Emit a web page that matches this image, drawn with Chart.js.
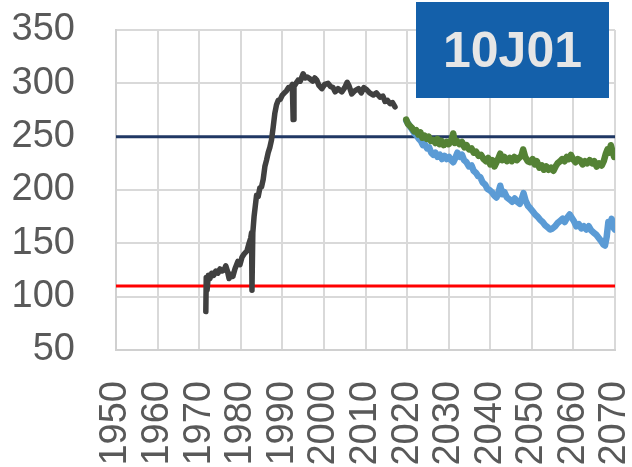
<!DOCTYPE html>
<html>
<head>
<meta charset="utf-8">
<script src="https://cdn.jsdelivr.net/npm/chart.js@4/dist/chart.umd.min.js"></script>
<style>
  html, body { margin: 0; padding: 0; background: #ffffff; }
  #wrap { position: relative; width: 632px; height: 467px; }
  #title {
    position: absolute; left: 416px; top: 2px; width: 193px; height: 96px;
    background: #1460aa; color: #e6e6e6;
    font: bold 50px "Liberation Sans", Arial, sans-serif;
    display: flex; align-items: center; justify-content: center;
  }
</style>
</head>
<body>
<div id="wrap">
  <canvas id="c" width="632" height="467"></canvas>
  <div id="title">10J01</div>
</div>
<script>
// ---- data ----
const xTicks = [1950, 1960, 1970, 1980, 1990, 2000, 2010, 2020, 2030, 2040, 2050, 2060, 2070];
const yTicks = [50, 100, 150, 200, 250, 300, 350];

const histYears = [1971.6,1971.7,1971.9,1972.2,1972.6,1973.0,1973.5,1974.0,1974.5,1975.0,1975.5,1976.0,1976.4,1976.8,1977.2,1977.6,1978.1,1978.6,1979.3,1979.8,1980.3,1980.8,1981.5,1982.0,1982.4,1982.6,1982.7,1982.9,1983.2,1983.5,1983.8,1984.2,1984.6,1985.0,1985.4,1985.8,1986.2,1986.6,1987.0,1987.4,1987.8,1988.2,1988.6,1989.0,1989.5,1990.0,1990.5,1991.0,1991.5,1992.0,1992.4,1992.6,1992.8,1993.3,1993.8,1994.3,1995.0,1995.5,1996.0,1996.7,1997.3,1997.8,1998.3,1998.8,1999.5,2000.2,2001.0,2001.6,2002.2,2002.7,2003.4,2004.3,2005.0,2005.6,2006.0,2006.7,2007.4,2008.3,2009.0,2009.6,2010.3,2011.0,2011.9,2012.6,2013.5,2014.2,2014.7,2015.3,2015.9,2016.5,2017.1];
const histValues = [86,118,106,120,117,122,120,124,122,126,124,125,129,124,117,121,119,126,133,130,137,140,143,150,155,160,106,160,175,185,195,194,202,203,210,222,228,235,240,247,259,272,280,284,285,289,291,293,296,296,299,266,297,300,303,302,309,305,306,304,302,305,303,298,295,299,300,297,296,292,295,292,296,301,298,290,293,295,291,296,294,291,289,291,287,288,283,284,281,282,278];

const greenYears = [2019.8,2020.2,2020.7,2021.2,2021.7,2022.2,2022.7,2023.2,2023.7,2024.2,2024.7,2025.2,2025.7,2026.3,2026.8,2027.3,2027.8,2028.3,2028.8,2029.5,2030.0,2030.6,2031.1,2031.5,2032.0,2032.6,2033.2,2033.8,2034.3,2034.9,2035.5,2036.0,2036.6,2037.2,2037.8,2038.4,2039.0,2039.5,2040.0,2040.5,2041.0,2041.5,2042.0,2042.4,2042.9,2043.4,2044.0,2044.7,2045.2,2045.8,2046.4,2046.9,2047.5,2047.9,2048.4,2049.0,2049.6,2050.2,2050.7,2051.2,2051.8,2052.4,2052.9,2053.5,2054.0,2054.6,2055.2,2055.7,2056.2,2056.8,2057.3,2057.9,2058.4,2058.9,2059.4,2059.9,2060.5,2061.0,2061.6,2062.2,2062.8,2063.3,2063.9,2064.5,2065.0,2065.6,2066.2,2066.8,2067.3,2067.8,2068.2,2068.6,2069.0,2069.4,2069.8];
const greenValues = [266,262,260,258,255,256,252,254,249,251,248,250,246,247,244,248,243,246,242,245,243,246,253,244,246,243,245,240,242,238,239,235,236,232,233,229,227,230,224,228,222,226,230,234,228,231,227,230,227,231,228,230,232,238,231,227,226,229,224,227,221,223,219,222,219,221,218,222,225,227,229,227,231,229,233,229,226,229,228,224,227,225,228,225,227,222,225,223,227,234,238,235,242,236,231];

const blueYears = [2019.8,2020.3,2020.8,2021.3,2021.8,2022.3,2022.8,2023.3,2023.8,2024.3,2024.8,2025.3,2025.8,2026.3,2026.8,2027.3,2027.9,2028.4,2029.0,2029.5,2030.1,2030.6,2031.1,2031.6,2032.1,2032.7,2033.2,2033.7,2034.3,2034.9,2035.5,2036.0,2036.6,2037.1,2037.6,2038.2,2038.8,2039.3,2039.8,2040.4,2040.9,2041.5,2042.0,2042.4,2042.9,2043.4,2044.0,2044.7,2045.3,2045.9,2046.5,2047.1,2047.6,2048.0,2048.5,2049.1,2049.6,2050.2,2050.8,2051.4,2052.0,2052.6,2053.2,2053.8,2054.4,2055.0,2055.6,2056.2,2056.8,2057.4,2057.9,2058.5,2059.1,2059.6,2060.1,2060.7,2061.3,2061.9,2062.5,2063.1,2063.7,2064.3,2064.9,2065.5,2066.1,2066.7,2067.2,2067.6,2068.0,2068.4,2068.8,2069.2,2069.6,2069.9];
const blueValues = [265,262,259,256,253,251,248,246,242,243,239,240,235,233,235,231,233,229,232,229,231,228,226,230,235,231,233,228,226,222,223,218,216,213,212,207,205,201,200,198,195,193,198,204,196,198,193,191,189,192,189,187,192,197,190,185,183,180,177,175,172,170,167,165,163,164,166,169,171,173,170,174,177,174,171,166,168,164,166,163,166,162,160,158,155,152,149,148,156,170,167,173,165,163];

const upperLimit = 250;
const lowerLimit = 110;

// ---- build ----
const toXY = (xs, ys) => xs.map((x, i) => ({ x: x, y: ys[i] }));
const flat = (v) => [{ x: xTicks[0], y: v }, { x: xTicks[xTicks.length - 1], y: v }];

const lineBase = { pointRadius: 0, tension: 0, borderJoinStyle: 'round', borderCapStyle: 'round', fill: false };

new Chart(document.getElementById('c'), {
  type: 'line',
  data: {
    datasets: [
      Object.assign({ label: 'hist', data: toXY(histYears, histValues), borderColor: '#404040', borderWidth: 5.5, order: 1 }, lineBase),
      Object.assign({ label: 'green', data: toXY(greenYears, greenValues), borderColor: '#548235', borderWidth: 6.5, order: 1 }, lineBase),
      Object.assign({ label: 'blue', data: toXY(blueYears, blueValues), borderColor: '#5b9bd5', borderWidth: 6.5, order: 2 }, lineBase),
      Object.assign({ label: 'upper', data: flat(upperLimit), borderColor: '#203864', borderWidth: 3, order: 3 }, lineBase),
      Object.assign({ label: 'lower', data: flat(lowerLimit), borderColor: '#ff0000', borderWidth: 3, order: 3 }, lineBase)
    ]
  },
  options: {
    responsive: false,
    animation: false,
    events: [],
    layout: { padding: { left: 0, right: 17, top: 30, bottom: 0 } },
    plugins: { legend: { display: false }, tooltip: { enabled: false }, title: { display: false } },
    scales: {
      x: {
        type: 'linear',
        min: xTicks[0], max: xTicks[xTicks.length - 1],
        afterBuildTicks: (s) => { s.ticks = xTicks.map(v => ({ value: v })); },
        afterFit: (s) => { s.height = 117; s.paddingLeft = 0; s.paddingRight = 0; },
        grid: { color: '#d9d9d9', lineWidth: 2, drawTicks: false },
        border: { color: '#d0d0d0', width: 2 },
        ticks: {
          autoSkip: false, maxRotation: 90, minRotation: 90, padding: 31,
          color: '#595959', font: { family: '"Liberation Sans", Arial, sans-serif', size: 38 },
          callback: (v) => String(v)
        }
      },
      y: {
        type: 'linear',
        min: yTicks[0], max: yTicks[yTicks.length - 1],
        afterBuildTicks: (s) => { s.ticks = yTicks.map(v => ({ value: v })); },
        afterFit: (s) => { s.width = 116; s.paddingTop = 0; s.paddingBottom = 0; },
        grid: { color: '#d9d9d9', lineWidth: 2, drawTicks: false },
        border: { color: '#d0d0d0', width: 2 },
        ticks: {
          padding: 41,
          color: '#595959', font: { family: '"Liberation Sans", Arial, sans-serif', size: 38 },
          callback: (v) => String(v)
        }
      }
    }
  }
});
</script>
</body>
</html>
